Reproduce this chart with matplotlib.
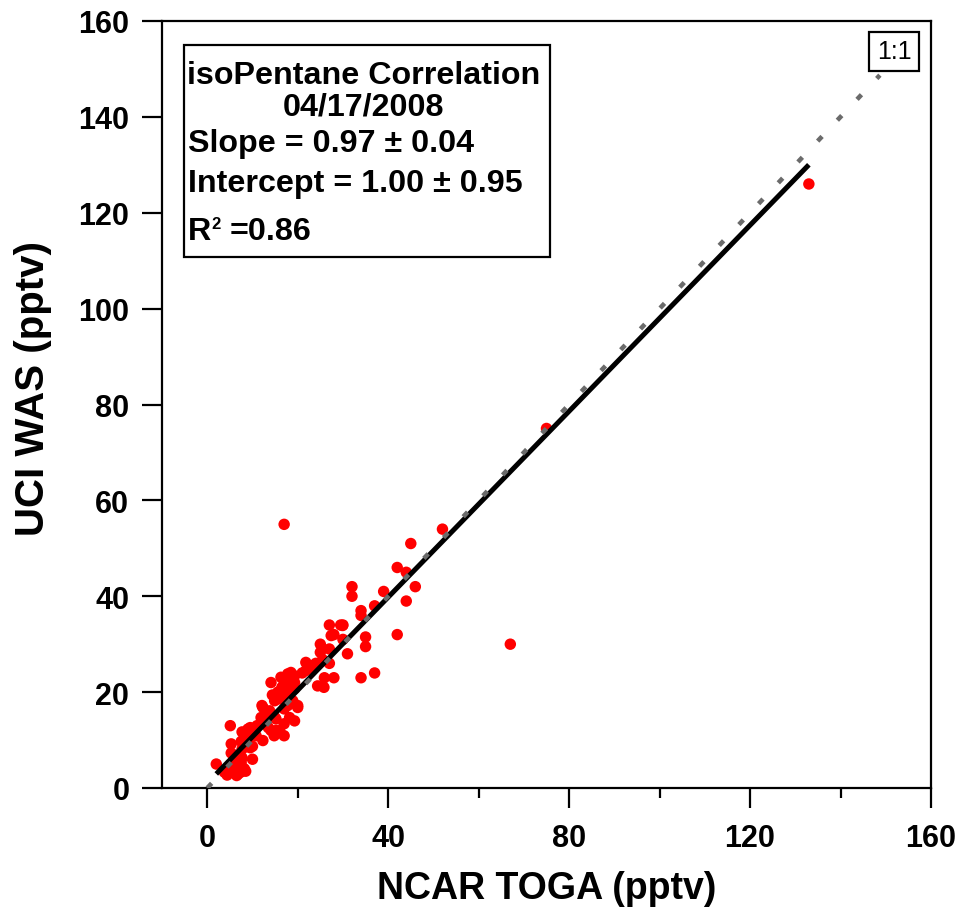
import matplotlib
matplotlib.use("Agg")
import matplotlib.pyplot as plt
from matplotlib.patches import Rectangle
from matplotlib.ticker import MultipleLocator

plt.rcParams['font.family'] = ['Liberation Sans', 'DejaVu Sans']

# ---- data ----
toga = [133, 75, 67, 17, 52, 45, 42, 44, 46, 44, 42, 39, 37, 32, 32, 34, 34, 35, 35, 34,
        37, 31, 30, 29.5, 27, 28, 30, 25, 27, 25, 21.8, 24, 27, 25.5, 21.8, 19.3, 19.3, 25.9,
        28, 24.4, 25.8, 17.8, 18.5, 16.3, 18.9, 14.1, 17, 19.3, 15.6, 17.8, 16.6, 14.9, 18.9,
        20, 12.3, 17, 17.8, 11.9, 18.2, 15.2, 17, 16, 9, 14.1, 17, 10.8, 14.8, 13.5, 5.1, 2,
        5.3, 8.2, 10, 12.3, 4.6, 6.8, 8.2, 6, 9.5, 7.7, 9.9, 7.5, 10, 7.7, 9.5, 5.3, 7.7,
        7.5, 3.8, 5.8, 7.4, 6.5, 4.4, 20, 19.3, 15.2, 12.1, 14.9, 13.8, 17.5, 18.6, 16,
        14.4, 22.6, 23.3, 29.9, 27.4, 12, 11, 13, 16.5, 19, 21, 18, 6, 8.5]
was = [126, 75, 30, 55, 54, 51, 46, 45, 42, 39, 32, 41, 38, 42, 40, 37, 36, 31.5, 29.5, 23,
       24, 28, 34, 34, 34, 32, 31, 30, 29, 28.3, 26.2, 26, 26, 26.8, 24.5, 23.4, 22, 23,
       23, 21.3, 21, 23.8, 24.1, 23.1, 22.4, 22, 21.7, 20.7, 20, 19.6, 20.4, 18.2, 18.2,
       16.8, 16.8, 16.5, 17.2, 14.7, 14.7, 14.4, 13.4, 12, 12.3, 12, 10.9, 10.9, 10.9, 12.6,
       13, 5, 9.2, 10.9, 6, 9.9, 3.3, 2.9, 4, 6, 12.6, 11.7, 11, 9.7, 8.7, 8.1, 8.4, 7.3,
       6.3, 5.3, 3.3, 3.6, 3.3, 2.6, 2.7, 17.2, 14, 12, 17.2, 14.8, 16.1, 17.8, 20.4,
       18.6, 19.4, 25, 25.5, 33.9, 31.8, 14, 13, 15.5, 21, 22.5, 24, 19, 4.5, 3.5]

slope = 0.97
intercept = 1.00
fit_range = [2, 133]
one_to_one = [0, 148.7]

box_lines = ["isoPentane Correlation", "04/17/2008",
             "Slope = 0.97 \u00b1 0.04", "Intercept = 1.00 \u00b1 0.95"]
r2_parts = ["R", "2", "=0.86"]

fig = plt.figure(figsize=(9.64, 9.12), dpi=100)
ax = fig.add_axes([162/964, 1-789/912, (931-162)/964, (789-22)/912])

ax.scatter(toga, was, s=68, color='#ff0000', edgecolors='none', zorder=2)
ax.plot(fit_range, [slope*v + intercept for v in fit_range], color='black', lw=3.6,
        solid_capstyle='butt', zorder=3)
ax.plot(one_to_one, one_to_one, color='#6b6b6b', lw=3.3, dashes=(1.4, 4.86),
        dash_capstyle='butt', zorder=4)

ax.set_xlim(-10, 160)
ax.set_ylim(0, 160)
ax.xaxis.set_major_locator(MultipleLocator(40))
ax.xaxis.set_minor_locator(MultipleLocator(20))
ax.yaxis.set_major_locator(MultipleLocator(20))
ax.tick_params(axis='both', which='major', direction='out', length=14.5, width=1.6,
               labelsize=22, pad=9)
ax.tick_params(axis='x', which='major', pad=11)
ax.tick_params(axis='x', which='minor', direction='out', length=7.5, width=1.6)
for lab in ax.get_xticklabels() + ax.get_yticklabels():
    lab.set_fontweight('bold')
for sp in ax.spines.values():
    sp.set_linewidth(1.6)

ax.set_xlabel("NCAR TOGA (pptv)", fontsize=27, fontweight='bold', labelpad=12)
ax.set_ylabel("UCI WAS (pptv)", fontsize=29, fontweight='bold')
ax.yaxis.set_label_coords(-(162 - 52) / 769, (789 - 389) / 767)

# annotation box
def fx(px):
    return (px - 162) / 769
def fy(py):
    return (789 - py) / 767

ax.add_patch(Rectangle((fx(184), fy(258)), fx(550) - fx(184), fy(46) - fy(258),
                       transform=ax.transAxes, fill=False, lw=1.6, ec='black', zorder=5))
ax.text(fx(364), fy(84), box_lines[0], transform=ax.transAxes, ha='center', va='baseline',
        fontsize=23.2, fontweight='bold', zorder=6)
ax.text(fx(364), fy(116), box_lines[1], transform=ax.transAxes, ha='center', va='baseline',
        fontsize=23.2, fontweight='bold', zorder=6)
ax.text(fx(188), fy(152), box_lines[2], transform=ax.transAxes, ha='left', va='baseline',
        fontsize=23.2, fontweight='bold', zorder=6)
ax.text(fx(188), fy(192), box_lines[3], transform=ax.transAxes, ha='left', va='baseline',
        fontsize=23.2, fontweight='bold', zorder=6)
ax.text(fx(188), fy(240), r2_parts[0], transform=ax.transAxes, ha='left', va='baseline',
        fontsize=23.2, fontweight='bold', zorder=6)
ax.text(fx(211), fy(229), r2_parts[1], transform=ax.transAxes, ha='left', va='baseline',
        fontsize=12, fontweight='bold', zorder=6)
ax.text(fx(230), fy(240), r2_parts[2], transform=ax.transAxes, ha='left', va='baseline',
        fontsize=23.2, fontweight='bold', zorder=6)

ax.text(fx(894), fy(52), "1:1", transform=ax.transAxes, ha='center', va='center',
        fontsize=18, zorder=6,
        bbox=dict(boxstyle='square,pad=0.3', fc='white', ec='black', lw=1.6))

fig.savefig("out.png", dpi=100)
